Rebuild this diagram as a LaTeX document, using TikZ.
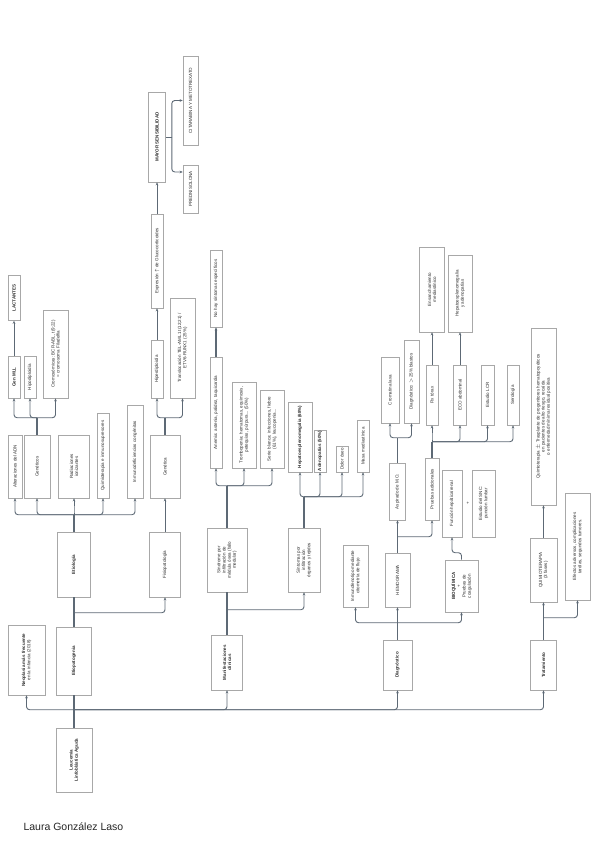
\documentclass[tikz,border=0pt]{standalone}
\usepackage{fontspec}
\setmainfont{Liberation Sans}
\usetikzlibrary{arrows.meta,calc}
\definecolor{wire}{HTML}{5D6975}
\definecolor{edge}{HTML}{A8A8A8}
\definecolor{inkg}{HTML}{2E2E2E}

\begin{document}
\begin{tikzpicture}[
  x=1pt, y=-1pt,
  font=\fontsize{4.5}{5.2}\selectfont,
  >={Stealth[length=3pt,width=2.6pt]},
  box/.style ={draw=edge, line width=0.6pt, fill=white, text=inkg, rotate=90,
               align=center, inner sep=1pt},
  hd/.style  ={box, font=\fontsize{4.5}{5.2}\selectfont\bfseries},
  sz/.style 2 args={minimum height=#1, minimum width=#2},
  stem/.style={draw=wire, line width=1.5pt},
  br/.style  ={->, draw=wire, line width=0.9pt, rounded corners=3pt},
]
  \useasboundingbox (0,0) rectangle (599,848);

  % --- raiz ---
  \node[hd, sz={36}{64}] (lla) at (74,760) {Leucemia\\Linfoblástica Aguda};
  \node[box, sz={37}{70}] (epi) at (26.5,660) {\textbf{Neoplasia más frecuente}\\en la infancia (2018)};
  \node[hd, sz={35}{68}] (etp) at (74,661) {Etiopatogenia};
  \node[hd, sz={33}{65}] (eti) at (74,564.5) {Etiología};
  \node[box, sz={31}{65}] (fis) at (165,564.5) {Fisiopatología};

  % --- etiologia ---
  \node[box, sz={14}{63}] (adn)  at (15,466.5) {Alteraciones del ADN};
  \node[box, sz={26}{63}] (gent) at (37,466.5) {Genéticos};
  \node[box, sz={31}{63}] (rad)  at (74,466.5) {Radiaciones\\ionizantes};
  \node[box, sz={12}{85}] (qui)  at (103,455.5) {Quimioterapia e inmunosupresores};
  \node[box, sz={16}{93}] (inm)  at (135,451.5) {Inmunodeficiencias congénitas};
  \node[hd, sz={12}{42}]  (mll)  at (14,377) {Gen MLL};
  \node[box, sz={12}{42}] (hipo) at (30,377) {Hipodiploidía};
  \node[box, sz={25}{88}] (phi)  at (55.5,354) {Cromosómicas: BCR-ABL, t(9;22)\\= cromosoma Filadelfia};
  \node[hd, sz={12}{45}]  (lac)  at (14,298) {LACTANTES};

  % --- fisiopatologia ---
  \node[box, sz={30}{63}]  (gen)   at (165,466.5) {Genética};
  \node[box, sz={12}{58}]  (hiper) at (157,369) {Hiperdiploidía};
  \node[box, sz={25}{100}] (tel)   at (182.5,348) {Translocación TEL-AML1 t(12;21) /\\ETV6-RUNX1 (25\%)};
  \node[box, sz={12}{94}]  (expr)  at (157,261) {Expresión $\uparrow$ de Glucocorticoides};
  \node[hd, sz={17}{90}]   (may)   at (157,137) {MAYOR SENSIBILIDAD};
  \node[box, sz={15}{89}]  (cit)   at (190.5,100.5) {CITARABINA Y METOTREXATO};
  \node[box, sz={15}{48}]  (pred)  at (190.5,189) {PREDNISOLONA};

  % --- manifestaciones ---
  \node[hd, sz={31}{55}]  (man)    at (227,662.5) {Manifestaciones\\clínicas};
  \node[box, sz={40}{64}] (smo)    at (227,560) {Síndrome por\\infiltración de\\médula ósea (fallo\\medular)};
  \node[box, sz={32}{64}] (sot)    at (304,560) {Síntomas por\\infiltración\\órganos y tejidos};
  \node[box, sz={12}{111}] (ane)   at (216,412.5) {Anemia: astenia, palidez, taquicardia};
  \node[box, sz={12}{77}] (nohay)  at (216,288.5) {No hay síntomas específicos};
  \node[box, sz={24}{86}] (tromb)  at (244,425) {Trombopenia: hematomas, equimosis,\\petequias, púrpura... (50\%)};
  \node[box, sz={24}{78}] (blanca) at (272,429) {Serie blanca: infecciones, fiebre\\(61\%), leucopenia...};
  \node[hd, sz={24}{70}]  (hep)    at (300,437) {Hepatoesplenomegalia (68\%)};
  \node[hd, sz={12}{42}]  (ade)    at (320,451) {Adenopatías (50\%)};
  \node[box, sz={12}{26}] (dol)    at (342,459) {Dolor óseo};
  \node[box, sz={12}{52}] (masa)   at (363,446) {Masa mediastínica};

  % --- diagnostico ---
  \node[hd, sz={29}{50}]  (diag) at (397.5,665) {Diagnóstico};
  \node[box, sz={25}{62}] (inmf) at (355.5,576) {Inmunofenotipo mediante\\citometría de flujo};
  \node[box, sz={25}{54}] (hemo) at (397.5,580) {HEMOGRAMA};
  \node[box, sz={33}{52}] (bioq) at (461.5,586) {\textbf{BIOQUÍMICA}\\+\\Pruebas de\\coagulación};
  \node[box, sz={16}{57}] (asp)  at (397.5,491.5) {Aspirado de M.O.};
  \node[box, sz={14}{62}] (pad)  at (432,489) {Pruebas adicionales};
  \node[box, sz={18}{66}] (crom) at (390,390) {Cromatina laxa};
  \node[box, sz={15}{83}] (dgx)  at (411.5,381.5) {Diagnóstico: $>$25\% blastos};
  \node[box, sz={12}{60}] (rx)   at (432,395) {Rx tórax};
  \node[box, sz={13}{60}] (eco)  at (460,395) {ECO abdominal};
  \node[box, sz={13}{60}] (lcr)  at (487.5,395) {Estudio LCR};
  \node[box, sz={12}{60}] (sero) at (513,395) {Serología};
  \node[box, sz={25}{85}] (ens)  at (432,289.5) {Ensanchamiento\\mediastínico};
  \node[box, sz={24}{77}] (hpe)  at (460,293.5) {Hepatoesplenomegalia\\y adenopatías};
  \node[box, sz={20}{67}] (fhr)  at (452,503.5) {Función hepática/renal};
  \node[rotate=90, text=inkg] (mas) at (468,503.5) {+};
  \node[box, sz={23}{67}] (snc)  at (483.5,503.5) {Estudio del SNC:\\punción lumbar};

  % --- tratamiento ---
  \node[hd, sz={26}{50}]   (trat) at (543.5,665) {Tratamiento};
  \node[box, sz={27}{64}]  (qt)   at (543.5,570) {QUIMIOTERAPIA\\(3 fases)};
  \node[box, sz={25}{177}] (tph)  at (543.5,416.5) {Quimioterapia $\pm$ Trasplante de progenitores hematopoyéticos\\en pacientes de alto riesgo, recaída\\o enfermedad mínima residual positiva};
  \node[box, sz={25}{107}] (efec) at (577.5,546.5) {Efectos adversos, complicaciones\\tardías, segundos tumores.};

  \node[anchor=west, font=\fontsize{10.5}{12}\selectfont, text=black!85] (autora) at (20,827) {Laura González Laso};

  % --- conectores ---
  \path (lla.east) ++(0,-18) coordinate (j0);
  \draw[stem] (lla.east) -- (etp.west);
  \draw[br] (j0) -| (epi.west);
  \draw[br] (j0) -| (man.west);
  \draw[br] (j0) -| (diag.west);
  \draw[br] (j0) -| (trat.west);

  \path (etp.east) ++(0,-14) coordinate (j1);
  \draw[stem] (etp.east) -- (eti.west);
  \draw[br] (j1) -| (fis.west);

  \path (eti.east) ++(0,-17) coordinate (j2);
  \draw[stem] (eti.east) -- (j2);
  \foreach \n in {adn,gent,rad,qui,inm} \draw[br] (j2) -| (\n.west);

  \path (gent.east) ++(0,-17) coordinate (j3);
  \draw[stem] (gent.east) -- (j3);
  \foreach \n in {mll,hipo,phi} \draw[br] (j3) -| (\n.west);
  \draw[br] (mll.east) -- (lac.west);

  \draw[br] (fis.east) -- (gen.west);
  \path (gen.east) ++(0,-17) coordinate (j4);
  \draw[stem] (gen.east) -- (j4);
  \draw[br] (j4) -| (hiper.west);
  \draw[br] (j4) -| (tel.west);
  \draw[br] (hiper.east) -- (expr.west);
  \draw[br] (expr.east) -- (may.west);
  \path (may.south) ++(6,0) coordinate (j5);
  \draw[br, -] (may.south) -- (j5);
  \draw[br] (j5) |- (cit.north);
  \draw[br] (j5) |- ($(pred.north east)!0.15!(pred.north west)$);

  \path (man.east) ++(0,-25) coordinate (j6);
  \draw[stem] (man.east) -- (smo.west);
  \draw[br] (j6) -| (sot.west);
  \path (smo.east) ++(0,-42) coordinate (j7);
  \draw[stem] (smo.east) -- (j7);
  \foreach \n in {ane,tromb,blanca} \draw[br] (j7) -| (\n.west);
  \draw[stem, ->] (ane.east) -- (nohay.west);
  \path (sot.east) ++(0,-31) coordinate (j8);
  \draw[stem] (sot.east) -- (j8);
  \foreach \n in {hep,ade,dol,masa} \draw[br] (j8) -| (\n.west);

  \path (diag.east) ++(0,-17) coordinate (j9);
  \draw[stem] (diag.east) -- (j9);
  \foreach \n in {inmf,hemo,bioq} \draw[br] (j9) -| (\n.west);
  \path (hemo.east) ++(0,-16) coordinate (j10);
  \draw[stem] (hemo.east) -- (j10);
  \draw[br] (j10) -| (asp.west);
  \draw[br] (j10) -| (pad.west);
  \path (asp.east) ++(0,-25) coordinate (j11);
  \draw[stem] (asp.east) -- (j11);
  \draw[br] (j11) -| (crom.west);
  \draw[br] (j11) -| (dgx.west);
  \path (pad.east) ++(0,-16) coordinate (j12);
  \draw[stem] (pad.east) -- (j12);
  \foreach \n in {rx,eco,lcr,sero} \draw[br] (j12) -| (\n.west);
  \draw[br] (rx.east) -- (ens.west);
  \draw[br] (eco.east) -- (hpe.west);
  \draw[br] (bioq.east) -- ++(0,-7) -| (fhr.west);

  \path (trat.east) ++(0,-22) coordinate (j13);
  \draw[stem] (trat.east) -- (j13);
  \draw[br] (j13) -| (qt.west);
  \draw[br] (j13) -| (efec.west);
  \draw[br] (qt.east) -- (tph.west);
\end{tikzpicture}
\end{document}
